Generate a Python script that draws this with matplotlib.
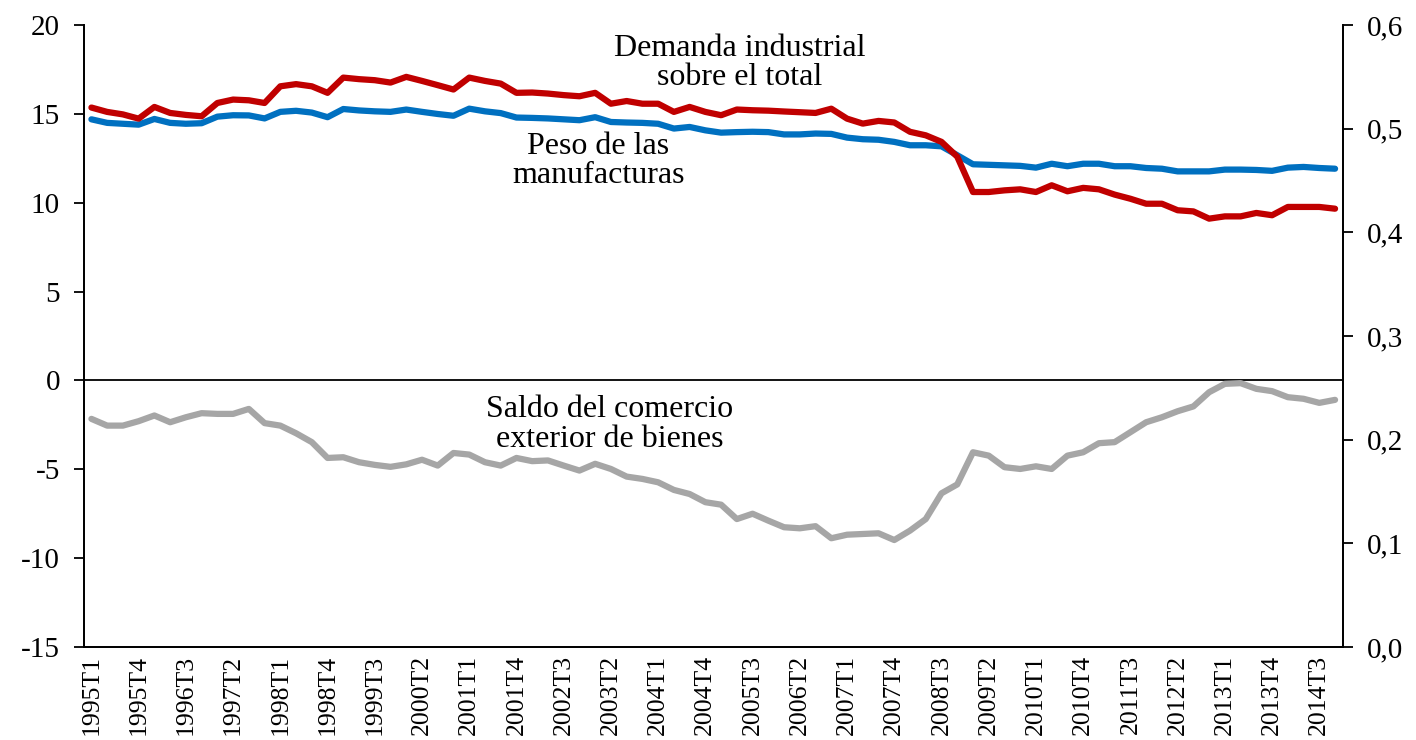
import matplotlib
matplotlib.use("Agg")
import matplotlib.pyplot as plt
import numpy as np

plt.rcParams['font.family'] = ['Liberation Serif', 'DejaVu Serif']

years = list(range(1995, 2015))
quarters = [f"{y}T{q}" for y in years for q in range(1, 5)]

# Peso de las manufacturas (left axis, %)
peso_manuf = [14.7, 14.5, 14.45, 14.4, 14.72, 14.5, 14.45, 14.48, 14.85, 14.93,
              14.92, 14.75, 15.12, 15.18, 15.08, 14.82, 15.28, 15.2, 15.15, 15.12,
              15.25, 15.12, 15.0, 14.9, 15.3, 15.15, 15.05, 14.8, 14.78, 14.75,
              14.7, 14.65, 14.82, 14.55, 14.52, 14.5, 14.45, 14.18, 14.27, 14.08,
              13.95, 13.98, 14.0, 13.98, 13.85, 13.85, 13.9, 13.88, 13.67, 13.58,
              13.55, 13.43, 13.24, 13.24, 13.18, 12.68, 12.17, 12.14, 12.11, 12.08,
              11.98, 12.2, 12.06, 12.2, 12.2, 12.06, 12.06, 11.96, 11.92, 11.77,
              11.77, 11.77, 11.87, 11.87, 11.85, 11.8, 11.98, 12.02, 11.96, 11.92]

# Demanda industrial sobre el total (right axis)
demanda_ind = [0.5205, 0.5163, 0.5139, 0.5098, 0.5211, 0.5153, 0.5134, 0.5121, 0.5249, 0.5282,
               0.5275, 0.5249, 0.5410, 0.5431, 0.5410, 0.5347, 0.5494, 0.5479, 0.5469, 0.5446,
               0.5501, 0.5462, 0.5421, 0.5379, 0.5494, 0.5462, 0.5436, 0.5347, 0.5350, 0.5340,
               0.5325, 0.5314, 0.5347, 0.5242, 0.5268, 0.5242, 0.5242, 0.5163, 0.5211, 0.5163,
               0.5131, 0.5186, 0.5179, 0.5175, 0.5167, 0.5160, 0.5153, 0.5194, 0.5098, 0.5050,
               0.5076, 0.5061, 0.4971, 0.4937, 0.4874, 0.4731, 0.4390, 0.4390, 0.4406, 0.4416,
               0.4390, 0.4455, 0.4397, 0.4430, 0.4416, 0.4365, 0.4325, 0.4277, 0.4277, 0.4214,
               0.4203, 0.4133, 0.4155, 0.4155, 0.4188, 0.4166, 0.4246, 0.4246, 0.4246, 0.4229]

# Saldo del comercio exterior de bienes (left axis)
saldo_bienes = [-2.16, -2.54, -2.54, -2.29, -1.97, -2.35, -2.07, -1.84, -1.88, -1.88,
                -1.6, -2.4, -2.54, -2.97, -3.47, -4.36, -4.32, -4.6, -4.75, -4.86,
                -4.72, -4.46, -4.79, -4.08, -4.17, -4.6, -4.79, -4.36, -4.54, -4.5,
                -4.79, -5.07, -4.69, -4.98, -5.41, -5.54, -5.73, -6.16, -6.39, -6.85,
                -6.99, -7.8, -7.5, -7.89, -8.26, -8.32, -8.2, -8.88, -8.68, -8.64,
                -8.6, -8.98, -8.45, -7.8, -6.35, -5.85, -4.04, -4.23, -4.88, -4.98,
                -4.83, -4.98, -4.23, -4.04, -3.53, -3.47, -2.91, -2.35, -2.07, -1.73,
                -1.46, -0.66, -0.19, -0.15, -0.47, -0.6, -0.94, -1.03, -1.26, -1.09]

left_ticks = [-15, -10, -5, 0, 5, 10, 15, 20]
right_ticks = [0.0, 0.1, 0.2, 0.3, 0.4, 0.5, 0.6]
right_labels = ["0,0", "0,1", "0,2", "0,3", "0,4", "0,5", "0,6"]

RED = "#C00000"
BLUE = "#0070C0"
GRAY = "#A6A6A6"

fig = plt.figure(figsize=(14.16, 7.4), dpi=100)
ax = fig.add_axes([0.059, 0.1257, 0.8894, 0.8403])
ax2 = ax.twinx()

x = np.arange(len(quarters))
ax.axhline(0, color="black", lw=1.3, zorder=1)
ax.plot(x, saldo_bienes, color=GRAY, lw=4.5, solid_capstyle="round", zorder=3)
ax.plot(x, peso_manuf, color=BLUE, lw=4.5, solid_capstyle="round", zorder=3)
ax2.plot(x, demanda_ind, color=RED, lw=4.5, solid_capstyle="round", zorder=3)

ax.set_xlim(-0.5, len(quarters) - 0.5)
ax.set_ylim(-15, 20)
ax2.set_ylim(0, 0.6)
ax.set_yticks(left_ticks)
ax.set_yticklabels([str(t) for t in left_ticks])
ax2.set_yticks(right_ticks)
ax2.set_yticklabels(right_labels)

ax.set_xticks(x[::3])
ax.set_xticklabels(quarters[::3], rotation=90, fontsize=18.5)
ax.tick_params(axis="x", length=0, pad=6)
ax.tick_params(axis="y", direction="out", length=7, width=1.3, labelsize=21, pad=10)
ax2.tick_params(axis="y", direction="out", length=7, width=1.3, labelsize=21, pad=10)

for a in (ax, ax2):
    a.spines["top"].set_visible(False)
    for s in ("left", "right", "bottom"):
        a.spines[s].set_linewidth(1.3)

ax.text(41.2, 17.86, "Demanda industrial\nsobre el total", ha="center", va="center",
        fontsize=23, linespacing=1.02, zorder=5)
ax.text(32.2, 12.34, "Peso de las\nmanufacturas", ha="center", va="center",
        fontsize=23, linespacing=1.02, zorder=5)
ax.text(32.9, -2.48, "Saldo del comercio\nexterior de bienes", ha="center", va="center",
        fontsize=23, linespacing=1.02, zorder=5)

fig.savefig("out.png", dpi=100)
